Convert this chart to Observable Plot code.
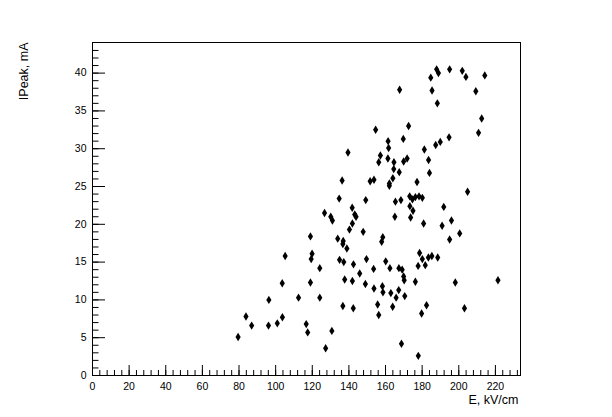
<!DOCTYPE html>
<html>
<head>
<meta charset="utf-8">
<script src="https://cdn.jsdelivr.net/npm/d3@7"></script>
<script src="https://cdn.jsdelivr.net/npm/@observablehq/plot@0.6"></script>
<style>
  html, body { margin: 0; padding: 0; background: #fff; }
  svg { display: block; }
</style>
</head>
<body>
<div id="chart"></div>
<script>
// E field (kV/cm)
const E = [
  79.5, 83.8, 86.9, 96.3, 96.1, 100.9, 103.7, 103.6, 105.2, 112.5,
  116.7, 117.5, 119.0, 119.0, 119.9, 119.4, 124.1, 124.1, 126.7, 130.1,
  131.0, 127.3, 130.7, 133.9, 134.9, 136.7, 136.9, 137.2, 136.7, 137.7,
  138.9, 140.3, 141.8, 143.2, 143.9, 141.9, 142.5, 141.9, 142.4, 145.9,
  147.8, 149.0, 149.6, 134.7, 149.2, 139.5, 136.3, 151.6, 153.7, 153.5,
  153.7, 154.6, 155.7, 156.3, 157.2, 156.3, 158.5, 157.9, 158.3, 158.6,
  160.1, 161.4, 161.7, 161.3, 162.4, 162.9, 163.9, 164.6, 164.5, 164.0,
  162.1, 162.1, 165.4, 168.4, 165.1, 165.8, 167.2, 167.3, 169.1, 169.9,
  170.2, 170.5, 167.7, 167.5, 169.7, 169.9, 171.8, 172.6, 168.7, 173.2,
  174.7, 176.3, 178.3, 180.1, 173.3, 175.0, 173.7, 177.2, 176.3, 177.8,
  177.9, 178.6, 180.1, 179.7, 180.8, 181.2, 181.7, 182.4, 183.4, 185.3,
  183.5, 184.0, 184.7, 185.4, 187.9, 188.9, 188.3, 187.4, 189.9, 188.5,
  190.9, 191.8, 194.7, 195.0, 195.0, 196.0, 198.1, 200.5, 201.9, 203.9,
  203.1, 204.8, 209.3, 210.8, 212.5, 214.2, 221.4
];
// Peak current (mA)
const IPeak = [
  5.1, 7.8, 6.6, 10.0, 6.6, 6.9, 7.7, 12.2, 15.8, 10.3,
  6.8, 5.7, 18.4, 12.3, 16.1, 15.4, 10.3, 14.2, 21.5, 21.0,
  20.5, 3.6, 5.9, 18.1, 15.3, 17.4, 17.8, 15.0, 9.2, 12.7,
  16.8, 19.3, 22.2, 21.3, 21.0, 20.1, 14.7, 12.5, 8.9, 13.5,
  19.0, 12.1, 15.4, 23.4, 23.2, 29.5, 25.8, 25.7, 25.9, 14.1,
  11.5, 32.5, 9.4, 8.0, 29.1, 28.2, 18.3, 17.7, 11.8, 11.0,
  15.1, 31.0, 30.1, 28.7, 14.2, 10.9, 9.1, 28.2, 27.3, 26.1,
  25.4, 25.1, 23.0, 23.2, 21.0, 10.3, 11.3, 14.2, 14.0, 13.1,
  12.6, 10.5, 37.8, 26.9, 31.3, 28.3, 28.7, 33.0, 4.2, 23.7,
  23.3, 23.6, 23.7, 23.5, 22.4, 21.8, 20.9, 25.6, 12.4, 14.5,
  2.6, 16.2, 15.4, 8.2, 20.1, 29.9, 14.6, 9.3, 15.6, 15.8,
  28.5, 26.8, 39.4, 37.7, 40.5, 40.0, 36.0, 30.5, 30.9, 15.6,
  19.8, 22.3, 31.5, 40.5, 18.0, 20.5, 12.3, 18.8, 40.3, 39.5,
  8.9, 24.3, 37.6, 32.1, 34.0, 39.7, 12.6
];

const xMajor = [0, 20, 40, 60, 80, 100, 120, 140, 160, 180, 200, 220];
const xMinor = d3.range(0, 233, 4);
const yMajor = [0, 5, 10, 15, 20, 25, 30, 35, 40];
const yMinor = d3.range(0, 44, 1);
const xTitle = "E, kV/cm";
const yTitle = "IPeak, mA";

const data = E.map((e, k) => ({e, ip: IPeak[k]}));

const diamond = {
  draw(context, size) {
    const r = Math.sqrt(size / Math.PI);
    const w = r * 0.62;
    context.moveTo(0, -r);
    context.lineTo(w, 0);
    context.lineTo(0, r);
    context.lineTo(-w, 0);
    context.closePath();
  }
};

const chart = Plot.plot({
  width: 612,
  height: 417,
  marginLeft: 92,
  marginRight: 92,
  marginTop: 42,
  marginBottom: 42,
  style: {fontFamily: "'Liberation Sans', Arial, Helvetica, sans-serif", fontSize: "10.5px", background: "white", color: "black"},
  x: {domain: [0, 233.7]},
  y: {domain: [0, 44.05]},
  marks: [
    Plot.axisX({ticks: xMinor, tickSize: -5, tickFormat: () => "", label: null}),
    Plot.axisX({ticks: xMajor, tickSize: -10, tickFormat: () => "", label: null}),
    Plot.axisX({ticks: xMajor, tickSize: 0, tickPadding: 7, tickFormat: d3.format("d"), label: null}),
    Plot.axisY({ticks: yMinor, tickSize: -6.5, tickFormat: () => "", label: null}),
    Plot.axisY({ticks: yMajor, tickSize: -13, tickFormat: () => "", label: null}),
    Plot.axisY({ticks: yMajor, tickSize: 0, tickPadding: 6, tickFormat: d3.format("d"), label: null}),
    Plot.frame({stroke: "black"}),
    Plot.dot(data, {x: "e", y: "ip", r: 4.2, symbol: diamond, fill: "black", stroke: "none"}),
    Plot.text([xTitle], {text: d => d, frameAnchor: "bottom-right", textAnchor: "end", lineAnchor: "bottom", dx: -2, dy: 28, fontSize: 12.5}),
    Plot.text([yTitle], {text: d => d, frameAnchor: "top-left", rotate: -90, textAnchor: "end", lineAnchor: "bottom", dx: -65, dy: 0, fontSize: 12.5})
  ]
});
document.getElementById("chart").appendChild(chart);
</script>
</body>
</html>
